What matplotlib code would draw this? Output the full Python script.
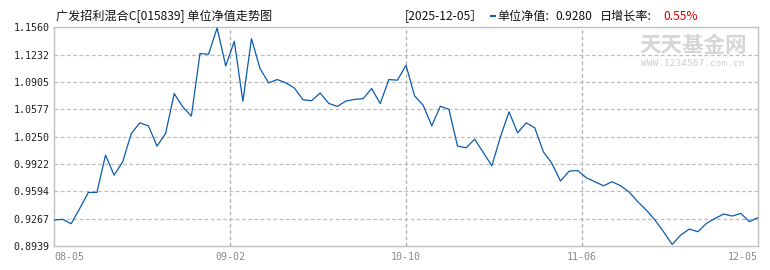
import matplotlib
matplotlib.use("Agg")
import matplotlib.pyplot as plt
from matplotlib.patches import Rectangle

# ---- data ----
nav_values = [
    0.9250, 0.9258, 0.9206, 0.9389, 0.9581, 0.9581, 1.0028, 0.9788, 0.9948, 1.0287,
    1.0415, 1.0379, 1.0136, 1.0287, 1.0766, 1.0606, 1.0495, 1.1245, 1.1237, 1.1552,
    1.1097, 1.1392, 1.0674, 1.1424, 1.1065, 1.0894, 1.0934, 1.0894, 1.0832, 1.0692,
    1.0680, 1.0772, 1.0648, 1.0612, 1.0676, 1.0696, 1.0704, 1.0826, 1.0646, 1.0934,
    1.0926, 1.1105, 1.0738, 1.0626, 1.0379, 1.0614, 1.0578, 1.0136, 1.0116, 1.0219,
    1.0060, 0.9900, 1.0247, 1.0547, 1.0295, 1.0415, 1.0355, 1.0068, 0.9928, 0.9717,
    0.9836, 0.9844, 0.9757, 0.9709, 0.9661, 0.9709, 0.9661, 0.9585, 0.9469, 0.9369,
    0.9250, 0.9110, 0.8958, 0.9070, 0.9142, 0.9110, 0.9210, 0.9270, 0.9322, 0.9298,
    0.9330, 0.9230, 0.9280,
]
x_tick_labels = ["08-05", "09-02", "10-10", "11-06", "12-05"]
y_tick_labels = ["0.8939", "0.9267", "0.9594", "0.9922", "1.0250",
                 "1.0577", "1.0905", "1.1232", "1.1560"]
title_text = "广发招利混合C[015839] 单位净值走势图"
date_text = "[2025-12-05］"
nav_label = "单位净值:"
nav_latest = "0.9280"
growth_label = "日增长率:"
growth_value = "0.55%"

CJK = ["Noto Sans CJK SC", "DejaVu Sans"]
W, H = 770, 270
fig = plt.figure(figsize=(W / 100, H / 100), dpi=100)
fig.patch.set_facecolor("white")

left, right, top, bottom = 54, 758, 27.3, 246
ax = fig.add_axes([left / W, 1 - bottom / H, (right - left) / W, (bottom - top) / H])

n = len(nav_values)
xs = list(range(n))
ax.plot(xs, nav_values, color="#0b5cad", lw=0.9, zorder=3)

yt = [float(v) for v in y_tick_labels]
ax.set_ylim(yt[0], yt[-1])
ax.set_xlim(0, n - 1)
ax.set_yticks(yt)
ax.set_yticklabels(y_tick_labels, family="DejaVu Sans Mono", fontsize=7.2, color="#222222")
xt = [(n - 1) * k / 4 for k in range(5)]
ax.set_xticks(xt)
ax.set_xticklabels(x_tick_labels, family="DejaVu Sans Mono", fontsize=7.2, color="#8a8a8a")
lbls = ax.get_xticklabels()
lbls[0].set_horizontalalignment("left")
lbls[-1].set_horizontalalignment("right")
ax.tick_params(length=0, pad=4)
ax.tick_params(axis="y", pad=3)

for v in yt[1:-1]:
    ax.axhline(v, color="#bdbdbd", lw=0.9, ls=(0, (3, 2)), zorder=1)
for v in xt[1:-1]:
    ax.axvline(v, color="#b0b0b0", lw=0.9, ls=(0, (3, 2)), zorder=1)
for s in ax.spines.values():
    s.set_color("#c0c0c0")
    s.set_linewidth(1.0)

# watermark
ax.text(0.908, 0.915, "天天基金网", transform=ax.transAxes, family=CJK, fontsize=15.5,
        color="#d6d6d6", ha="center", va="center", fontweight="bold", zorder=0)
ax.text(0.908, 0.835, "WWW.1234567.com.cn", transform=ax.transAxes, family="DejaVu Sans Mono",
        fontsize=6.8, color="#cfcfcf", ha="center", va="center", zorder=0)

# header texts
ty = 1 - 16 / H
fig.text(56 / W, ty, title_text, family=CJK, fontsize=8.7, color="#111111", va="center", ha="left")
fig.text(405 / W, ty, date_text, family=CJK, fontsize=8.7, color="#111111", va="center", ha="left")
fig.patches.append(Rectangle((490 / W, 1 - 17.3 / H), 6 / W, 2.6 / H, transform=fig.transFigure,
                             facecolor="#0b5cad", edgecolor="none"))
fig.text(497 / W, ty, nav_label, family=CJK, fontsize=8.7, color="#111111", va="center", ha="left")
fig.text(555 / W, ty, nav_latest, family=CJK, fontsize=8.7, color="#111111", va="center", ha="left")
fig.text(600 / W, ty, growth_label, family=CJK, fontsize=8.7, color="#111111", va="center", ha="left")
fig.text(663 / W, ty, growth_value, family=CJK, fontsize=8.7, color="#e00000", va="center", ha="left")

fig.savefig("out.png", dpi=100, facecolor="white")
